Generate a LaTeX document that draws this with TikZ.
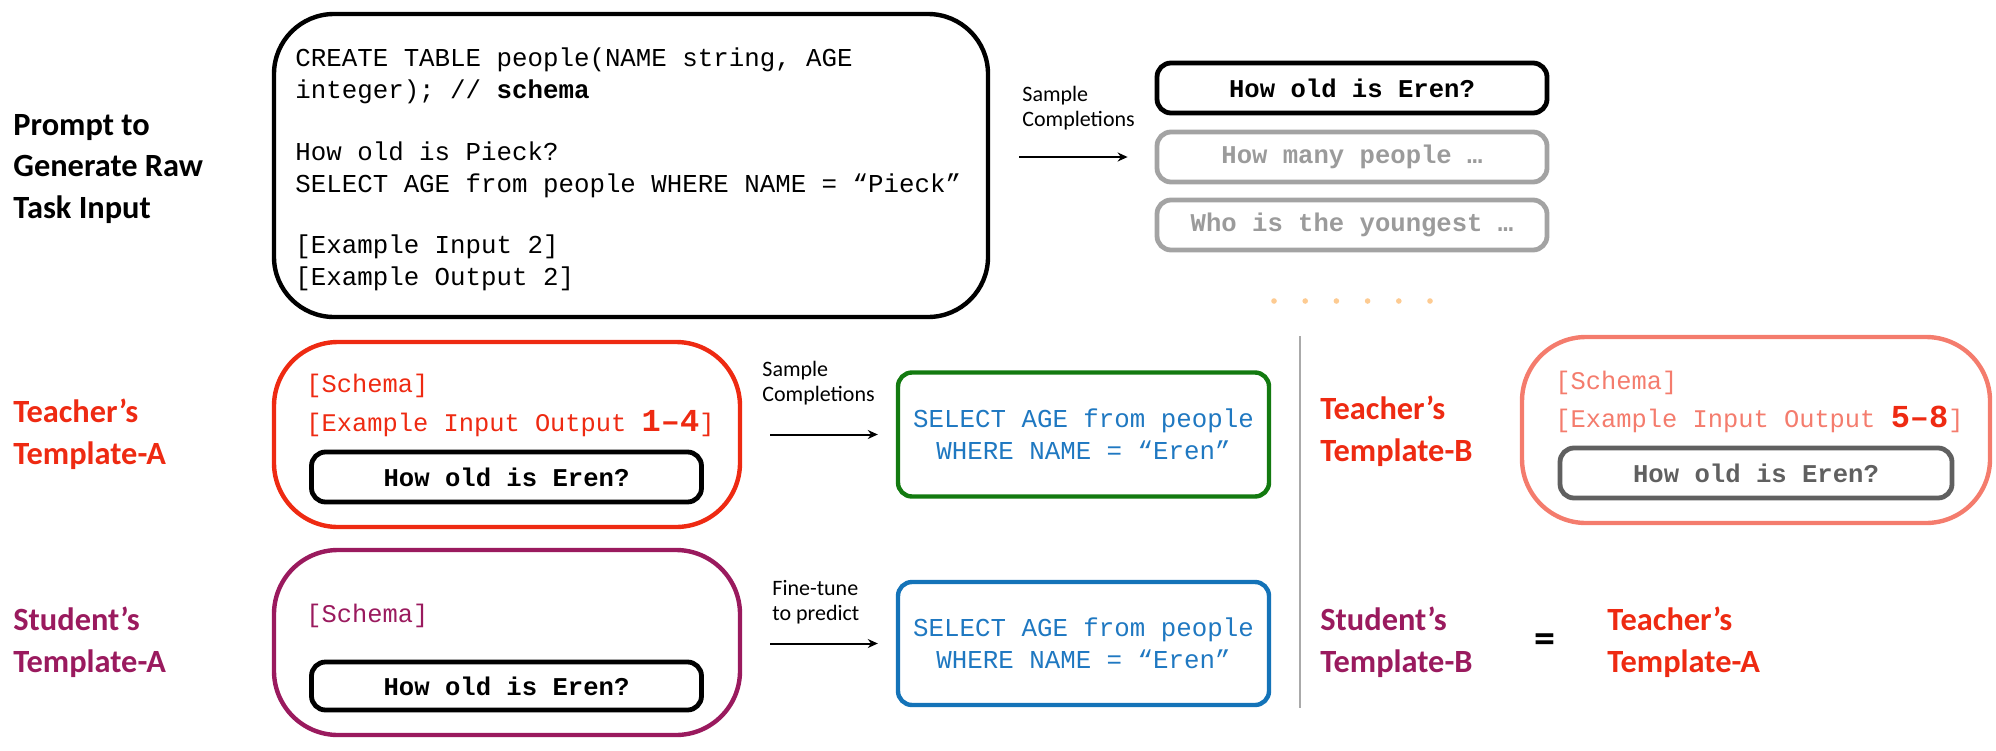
\documentclass[tikz,border=0pt]{standalone}
\usepackage{fontspec}
\setmainfont{Carlito}
\newfontfamily\codefont{Liberation Mono}
\newcommand\bignum[1]{{\codefont\bfseries\fontsize{16}{16}\selectfont #1}}
\usetikzlibrary{arrows.meta}
\definecolor{tred}{HTML}{EE2A12}
\definecolor{spurple}{HTML}{9A1A5E}
\definecolor{salmon}{HTML}{F47C6D}
\definecolor{gboxc}{HTML}{137A10}
\definecolor{bboxc}{HTML}{1473B8}
\definecolor{sqlblue}{HTML}{1F78C1}
\definecolor{lgray}{HTML}{A3A3A3}
\definecolor{dgray}{HTML}{606060}
\definecolor{dotc}{HTML}{FDCB92}
\definecolor{vlinec}{HTML}{AAAAAA}
\tikzset{
  lbl/.style={anchor=west, align=left, inner sep=0pt, font=\fontsize{16.2}{20.8}\selectfont\bfseries},
  smalllbl/.style={anchor=west, align=left, inner sep=0pt, font=\fontsize{11}{12.8}\selectfont},
  code/.style={anchor=base west, inner sep=0pt, font=\codefont\fontsize{12.9}{15.6}\selectfont},
  tcode/.style={anchor=base west, inner sep=0pt, font=\codefont\fontsize{12.7}{15.6}\selectfont},
  bigframe/.style={draw, line width=2.2pt, rounded corners=30pt, inner sep=0pt},
  tframe/.style={draw, line width=2.2pt, rounded corners=32pt, inner sep=0pt, minimum width=233pt, minimum height=92.5pt},
  qbox/.style={draw, line width=2.4pt, rounded corners=7pt, minimum width=195pt, minimum height=25pt, inner sep=0pt, font=\codefont\bfseries\fontsize{12.8}{15}\selectfont},
  sqlbox/.style={draw, line width=2.2pt, rounded corners=7pt, minimum width=185.5pt, minimum height=62pt, inner sep=0pt, align=center, text=sqlblue, font=\codefont\fontsize{12.9}{16}\selectfont},
  arr/.style={-{Stealth[length=5pt,width=4.5pt]}, line width=1pt}
}
\begin{document}
\begin{tikzpicture}[x=0.5pt,y=-0.5pt]
\useasboundingbox (0,0) rectangle (1996,750);

% ---------- Row 1 ----------
\node[lbl] (plabel) at (13,169) {Prompt to\\Generate Raw\\Task Input};
\node[bigframe, minimum width=357pt, minimum height=151.5pt] (big) at (631,165.5) {};
\node[code] (c1) at (295,66) {CREATE TABLE people(NAME string, AGE};
\node[code] (c2) at (295,98) {integer); // \textbf{schema}};
\node[code] (c3) at (295,160) {How old is Pieck?};
\node[code] (c4) at (295,192) {SELECT AGE from people WHERE NAME = “Pieck”};
\node[code] (c5) at (295,253) {[Example Input 2]};
\node[code] (c6) at (295,285) {[Example Output 2]};

\node[smalllbl] (samp1) at (1022,108) {Sample\\Completions};
\node[qbox] (q1) at (1352,88) {How old is Eren?};
\node[qbox, draw=lgray, text=lgray!95!black] (q2) at (1352,157) {How many people …};
\node[qbox, draw=lgray, text=lgray!95!black] (q3) at (1352,225) {Who is the youngest …};
\draw[arr, shorten <=14.5pt, shorten >=13.5pt] (big.east |- q2.west) -- (q2.west);
\foreach \i in {0,...,5} \fill[dotc] (1274+31.2*\i,301) circle (1.4pt);

% ---------- Row 2 ----------
\node[lbl, text=tred] (tA) at (13,434) {Teacher’s\\Template-A};
\node[tframe, draw=tred] (red) at (507,434.5) {};
\node[tcode, text=tred] (rs) at (306,392) {[Schema]};
\node[tcode, text=tred] (re) at (306,431) {[Example Input Output \bignum{1–4}]};
\node[qbox] (rq) at (506.5,477) {How old is Eren?};
\node[smalllbl] (samp2) at (762,383) {Sample\\Completions};
\node[sqlbox, draw=gboxc] (green) at (1083.5,434.5) {SELECT AGE from people\\WHERE NAME = “Eren”};
\draw[arr, shorten <=14pt, shorten >=9pt] (red.east |- green.west) -- (green.west);

\coordinate (vtop) at (1300,336);
\coordinate (vbot) at (1300,708);
\draw[vlinec, line width=1pt] (vtop) -- (vbot);

\node[lbl, text=tred] (tB) at (1320,431) {Teacher’s\\Template-B};
\node[tframe, draw=salmon, minimum width=234pt, minimum height=93pt] (sal) at (1756,430) {};
\node[tcode, text=salmon] (ss) at (1555,389) {[Schema]};
\node[tcode, text=salmon] (se) at (1555,427) {[Example Input Output {\color{tred}\bignum{5–8}}]};
\node[qbox, draw=dgray, text=dgray, minimum width=196pt] (sq) at (1756,473) {How old is Eren?};

% ---------- Row 3 ----------
\node[lbl, text=spurple] (sA) at (13,642) {Student’s\\Template-A};
\node[tframe, draw=spurple] (pur) at (507,642.5) {};
\node[tcode, text=spurple] (ps) at (306,622) {[Schema]};
\node[qbox, minimum height=24pt] (pq) at (506.5,686) {How old is Eren?};
\node[smalllbl] (ft) at (772,602) {Fine-tune\\to predict};
\node[sqlbox, draw=bboxc, minimum height=61.5pt] (blue) at (1083.5,643.5) {SELECT AGE from people\\WHERE NAME = “Eren”};
\draw[arr, shorten <=14pt, shorten >=9pt] (pur.east |- blue.west) -- (blue.west);

\node[lbl, text=spurple] (sB) at (1320,642) {Student’s\\Template-B};
\node[inner sep=0pt, font=\fontsize{21}{24}\selectfont\bfseries] (eq) at (1545,643) {=};
\node[lbl, text=tred] (tA2) at (1607,642) {Teacher’s\\Template-A};
\end{tikzpicture}
\end{document}
